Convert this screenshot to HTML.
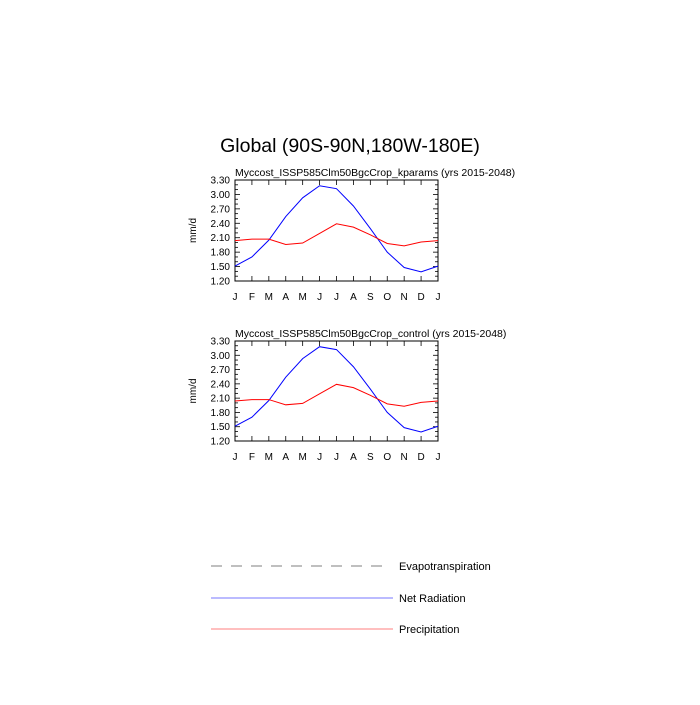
<!DOCTYPE html>
<html><head><meta charset="utf-8"><style>
body{margin:0;background:#fff;width:700px;height:700px;overflow:hidden}
svg{font-family:"Liberation Sans",sans-serif}
</style></head><body>
<svg id="s" width="700" height="700" xmlns="http://www.w3.org/2000/svg">
<rect width="700" height="700" fill="#fff"/>
<text x="350" y="152" font-size="19.5" text-anchor="middle">Global (90S-90N,180W-180E)</text>
<line x1="211" y1="566" x2="390" y2="566" stroke="#999" stroke-width="1.3" stroke-dasharray="11,9"/>
<text x="399" y="570" font-size="11">Evapotranspiration</text>
<line x1="211" y1="598" x2="393" y2="598" stroke="#7777ff" stroke-width="1"/>
<text x="399" y="602" font-size="11">Net Radiation</text>
<line x1="211" y1="629" x2="393" y2="629" stroke="#ff9999" stroke-width="1.2"/>
<text x="399" y="633" font-size="11">Precipitation</text>
</svg>
<script>
const s=document.getElementById('s');let h='';
const blue=[1.51,1.70,2.05,2.54,2.93,3.18,3.12,2.76,2.29,1.80,1.48,1.39,1.51];
const red=[2.04,2.07,2.07,1.96,1.99,2.19,2.39,2.32,2.16,1.98,1.93,2.01,2.04];
const M=['J','F','M','A','M','J','J','A','S','O','N','D','J'];
function plot(top,bot,title){
 const L=235,R=438,X=i=>L+i*(R-L)/12,Y=v=>bot-(v-1.2)*(bot-top)/2.1;
 h+=`<text x="235" y="${top-4}" font-size="10.5">${title}</text>`;
 h+=`<rect x="${L}" y="${top}" width="${R-L}" height="${bot-top}" fill="none" stroke="#000" stroke-width="1"/>`;
 for(let k=0;k<=21;k++){const v=1.2+k*0.1,y=Y(v),maj=k%3==0,l=maj?5:3;
  h+=`<line x1="${L}" y1="${y}" x2="${L+l}" y2="${y}" stroke="#000" stroke-width="0.8"/><line x1="${R}" y1="${y}" x2="${R-l}" y2="${y}" stroke="#000" stroke-width="0.8"/>`;
  if(maj)h+=`<text x="${L-5}" y="${y+3.5}" font-size="10" text-anchor="end">${v.toFixed(2)}</text>`;}
 for(let i=0;i<=12;i++){const x=X(i);
  h+=`<line x1="${x}" y1="${bot}" x2="${x}" y2="${bot-5}" stroke="#000" stroke-width="0.8"/><line x1="${x}" y1="${top}" x2="${x}" y2="${top+5}" stroke="#000" stroke-width="0.8"/>`;
  h+=`<text x="${x}" y="${bot+19}" font-size="10" text-anchor="middle">${M[i]}</text>`;}
 h+=`<text transform="translate(196,${(top+bot)/2}) rotate(-90)" font-size="10" text-anchor="middle">mm/d</text>`;
 h+=`<polyline fill="none" stroke="#0000ff" stroke-width="1" points="${blue.map((v,i)=>X(i)+','+Y(v)).join(' ')}"/>`;
 h+=`<polyline fill="none" stroke="#ff0000" stroke-width="1" points="${red.map((v,i)=>X(i)+','+Y(v)).join(' ')}"/>`;
}
plot(180,281,'Myccost_ISSP585Clm50BgcCrop_kparams (yrs 2015-2048)');
plot(341,441,'Myccost_ISSP585Clm50BgcCrop_control (yrs 2015-2048)');
s.insertAdjacentHTML('beforeend',h);
</script>
</body></html>
